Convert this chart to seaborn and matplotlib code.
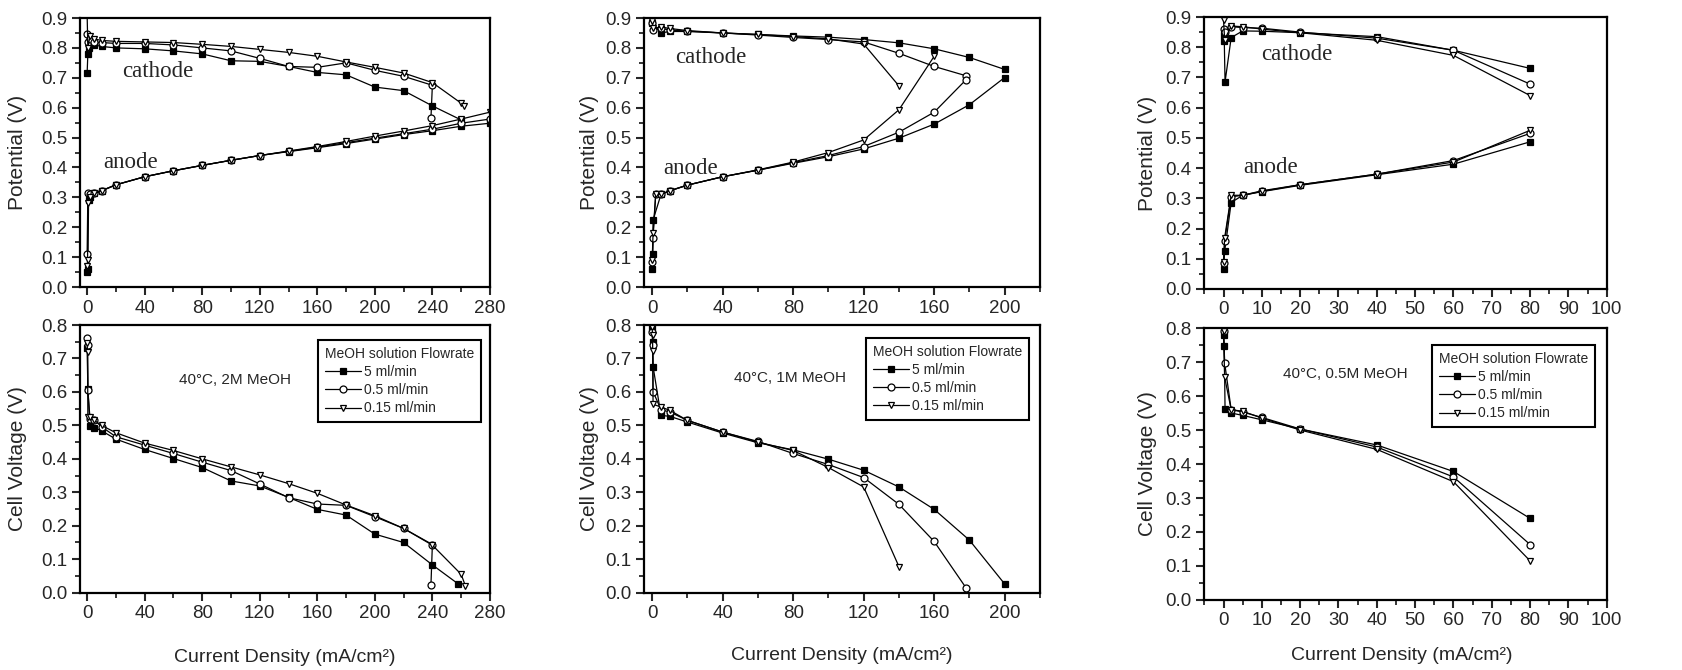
import matplotlib
matplotlib.use("Agg")
import matplotlib.pyplot as plt
from matplotlib.ticker import MultipleLocator, FormatStrFormatter
from matplotlib.lines import Line2D
import seaborn as sns

# ---------------- DATA ----------------
series_labels = ["5 ml/min", "0.5 ml/min", "0.15 ml/min"]

# 2M MeOH
m2_cat_sq_x = [0, 0.5, 1, 2, 5, 10, 20, 40, 60, 80, 100, 120, 140, 160, 180, 200, 220, 240, 260]
m2_cat_sq_y = [0.716, 0.78, 0.80, 0.82, 0.81, 0.805, 0.80, 0.797, 0.79, 0.78, 0.757, 0.755, 0.738, 0.718, 0.71, 0.669, 0.657, 0.606, 0.559]
m2_cat_ci_x = [0, 0.5, 2, 5, 10, 20, 40, 60, 80, 100, 120, 140, 160, 180, 200, 220, 240, 239]
m2_cat_ci_y = [0.845, 0.82, 0.83, 0.82, 0.818, 0.815, 0.815, 0.81, 0.80, 0.79, 0.765, 0.738, 0.735, 0.75, 0.725, 0.705, 0.675, 0.565]
m2_cat_tr_x = [0, 0.5, 2, 5, 10, 20, 40, 60, 80, 100, 120, 140, 160, 180, 200, 220, 240, 260, 262]
m2_cat_tr_y = [0.91, 0.80, 0.84, 0.83, 0.825, 0.822, 0.82, 0.818, 0.812, 0.805, 0.795, 0.785, 0.772, 0.753, 0.735, 0.716, 0.684, 0.615, 0.607]
m2_an_sq_x = [0, 0.5, 1, 2, 5, 10, 20, 40, 60, 80, 100, 120, 140, 160, 180, 200, 220, 240, 260, 280]
m2_an_sq_y = [0.05, 0.06, 0.29, 0.30, 0.313, 0.322, 0.342, 0.369, 0.389, 0.407, 0.424, 0.44, 0.453, 0.466, 0.48, 0.495, 0.51, 0.523, 0.538, 0.548]
m2_an_ci_x = [0, 0.5, 2, 5, 10, 20, 40, 60, 80, 100, 120, 140, 160, 180, 200, 220, 240, 260, 280]
m2_an_ci_y = [0.11, 0.315, 0.31, 0.313, 0.322, 0.342, 0.369, 0.389, 0.407, 0.424, 0.44, 0.454, 0.468, 0.483, 0.498, 0.513, 0.528, 0.548, 0.562]
m2_an_tr_x = [0, 0.3, 0.5, 2, 5, 10, 20, 40, 60, 80, 100, 120, 140, 160, 180, 200, 220, 240, 260, 280]
m2_an_tr_y = [0.07, 0.09, 0.28, 0.30, 0.313, 0.322, 0.342, 0.369, 0.389, 0.407, 0.424, 0.44, 0.455, 0.47, 0.487, 0.505, 0.522, 0.54, 0.562, 0.585]
m2_cell_sq_x = [0, 0.5, 2, 5, 10, 20, 40, 60, 80, 100, 120, 140, 160, 180, 200, 220, 240, 258]
m2_cell_sq_y = [0.73, 0.61, 0.497, 0.493, 0.484, 0.459, 0.428, 0.401, 0.374, 0.334, 0.319, 0.285, 0.249, 0.232, 0.175, 0.150, 0.083, 0.026]
m2_cell_ci_x = [0, 0.3, 0.5, 2, 5, 10, 20, 40, 60, 80, 100, 120, 140, 160, 180, 200, 220, 240, 239]
m2_cell_ci_y = [0.76, 0.74, 0.605, 0.52, 0.516, 0.496, 0.466, 0.441, 0.416, 0.39, 0.365, 0.325, 0.284, 0.265, 0.261, 0.227, 0.192, 0.144, 0.023]
m2_cell_tr_x = [0, 0.3, 0.5, 2, 5, 10, 20, 40, 60, 80, 100, 120, 140, 160, 180, 200, 220, 240, 260, 263]
m2_cell_tr_y = [0.745, 0.72, 0.525, 0.525, 0.515, 0.50, 0.478, 0.447, 0.425, 0.40, 0.376, 0.352, 0.326, 0.297, 0.262, 0.23, 0.192, 0.142, 0.055, 0.02]

# 1M MeOH
m1_cat_sq_x = [0, 5, 10, 20, 40, 60, 80, 100, 120, 140, 160, 180, 200]
m1_cat_sq_y = [0.885, 0.85, 0.855, 0.855, 0.85, 0.845, 0.84, 0.836, 0.828, 0.817, 0.797, 0.768, 0.728]
m1_cat_ci_x = [0, 0.5, 5, 10, 20, 40, 60, 80, 100, 120, 140, 160, 178]
m1_cat_ci_y = [0.885, 0.86, 0.865, 0.86, 0.856, 0.85, 0.843, 0.835, 0.828, 0.82, 0.782, 0.738, 0.707]
m1_cat_tr_x = [0, 0.5, 5, 10, 20, 40, 60, 80, 100, 120, 140]
m1_cat_tr_y = [0.89, 0.865, 0.87, 0.865, 0.858, 0.85, 0.845, 0.838, 0.83, 0.813, 0.673]
m1_an_sq_x = [0, 0.3, 0.5, 5, 10, 20, 40, 60, 80, 100, 120, 140, 160, 180, 200]
m1_an_sq_y = [0.06, 0.11, 0.224, 0.31, 0.322, 0.341, 0.369, 0.391, 0.414, 0.436, 0.462, 0.498, 0.545, 0.61, 0.701]
m1_an_ci_x = [0, 0.5, 2, 5, 10, 20, 40, 60, 80, 100, 120, 140, 160, 178]
m1_an_ci_y = [0.085, 0.165, 0.31, 0.31, 0.322, 0.341, 0.369, 0.391, 0.416, 0.44, 0.47, 0.518, 0.585, 0.693]
m1_an_tr_x = [0, 0.5, 2, 5, 10, 20, 40, 60, 80, 100, 120, 140, 160]
m1_an_tr_y = [0.09, 0.18, 0.31, 0.31, 0.322, 0.341, 0.369, 0.392, 0.418, 0.45, 0.492, 0.593, 0.772]
m1_cell_sq_x = [0, 0.3, 0.5, 5, 10, 20, 40, 60, 80, 100, 120, 140, 160, 180, 200]
m1_cell_sq_y = [0.79, 0.749, 0.676, 0.53, 0.527, 0.51, 0.477, 0.448, 0.427, 0.399, 0.366, 0.316, 0.249, 0.157, 0.026]
m1_cell_ci_x = [0, 0.3, 0.5, 5, 10, 20, 40, 60, 80, 100, 120, 140, 160, 178]
m1_cell_ci_y = [0.78, 0.739, 0.601, 0.547, 0.54, 0.515, 0.48, 0.452, 0.416, 0.383, 0.344, 0.264, 0.153, 0.015]
m1_cell_tr_x = [0, 0.2, 0.3, 0.5, 5, 10, 20, 40, 60, 80, 100, 120, 140]
m1_cell_tr_y = [0.795, 0.77, 0.721, 0.563, 0.555, 0.545, 0.515, 0.48, 0.45, 0.425, 0.374, 0.316, 0.078]

# 0.5M MeOH
h_cat_sq_x = [0, 0.2, 0.4, 2, 5, 10, 20, 40, 60, 80]
h_cat_sq_y = [0.84, 0.82, 0.685, 0.832, 0.854, 0.853, 0.848, 0.835, 0.79, 0.73]
h_cat_ci_x = [0, 0.3, 2, 5, 10, 20, 40, 60, 80]
h_cat_ci_y = [0.861, 0.85, 0.868, 0.865, 0.863, 0.85, 0.83, 0.79, 0.678]
h_cat_tr_x = [0, 0.3, 2, 5, 10, 20, 40, 60, 80]
h_cat_tr_y = [0.889, 0.825, 0.87, 0.868, 0.86, 0.848, 0.823, 0.773, 0.64]
h_an_sq_x = [0, 0.3, 2, 5, 10, 20, 40, 60, 80]
h_an_sq_y = [0.065, 0.125, 0.286, 0.31, 0.322, 0.343, 0.378, 0.413, 0.487]
h_an_ci_x = [0, 0.3, 2, 5, 10, 20, 40, 60, 80]
h_an_ci_y = [0.085, 0.16, 0.305, 0.31, 0.323, 0.345, 0.38, 0.425, 0.515]
h_an_tr_x = [0, 0.3, 2, 5, 10, 20, 40, 60, 80]
h_an_tr_y = [0.09, 0.17, 0.31, 0.31, 0.325, 0.345, 0.38, 0.42, 0.525]
h_cell_sq_x = [0, 0.2, 0.4, 2, 5, 10, 20, 40, 60, 80]
h_cell_sq_y = [0.78, 0.748, 0.561, 0.55, 0.543, 0.53, 0.503, 0.456, 0.378, 0.24]
h_cell_ci_x = [0, 0.3, 2, 5, 10, 20, 40, 60, 80]
h_cell_ci_y = [0.79, 0.697, 0.56, 0.553, 0.537, 0.503, 0.45, 0.362, 0.163]
h_cell_tr_x = [0, 0.3, 2, 5, 10, 20, 40, 60, 80]
h_cell_tr_y = [0.79, 0.655, 0.56, 0.555, 0.535, 0.50, 0.443, 0.348, 0.115]

conditions = ["40°C, 2M MeOH", "40°C, 1M MeOH", "40°C, 0.5M MeOH"]

# ---------------- STYLE ----------------
sns.set_style("ticks")
plt.rcParams["font.family"] = ["Liberation Sans", "DejaVu Sans"]
plt.rcParams["axes.linewidth"] = 1.6

fig = plt.figure(figsize=(16.83, 6.70), dpi=100)

rects_top = [[0.0475, 0.5716, 0.2436, 0.4015],
             [0.3828, 0.5716, 0.2351, 0.4015],
             [0.7156, 0.5687, 0.2391, 0.4059]]
rects_bot = [[0.0475, 0.1154, 0.2436, 0.3995],
             [0.3828, 0.1154, 0.2351, 0.3995],
             [0.7156, 0.1045, 0.2391, 0.4059]]
xlims = [(-5, 280), (-4.5, 220), (-5, 100)]
xmaj = [40, 40, 10]
xmin = [20, 20, 5]
ylabel_x = [-0.129, -0.115, -0.118]
xlabel_pos = [(285 / 1683, 1 - 657 / 670), (842 / 1683, 1 - 656 / 670), (1402 / 1683, 1 - 655 / 670)]

marker_styles = [dict(marker="s", markerfacecolor="black"),
                 dict(marker="o", markerfacecolor="white"),
                 dict(marker="v", markerfacecolor="white")]

top_data = [
    [(m2_cat_sq_x, m2_cat_sq_y), (m2_cat_ci_x, m2_cat_ci_y), (m2_cat_tr_x, m2_cat_tr_y),
     (m2_an_sq_x, m2_an_sq_y), (m2_an_ci_x, m2_an_ci_y), (m2_an_tr_x, m2_an_tr_y)],
    [(m1_cat_sq_x, m1_cat_sq_y), (m1_cat_ci_x, m1_cat_ci_y), (m1_cat_tr_x, m1_cat_tr_y),
     (m1_an_sq_x, m1_an_sq_y), (m1_an_ci_x, m1_an_ci_y), (m1_an_tr_x, m1_an_tr_y)],
    [(h_cat_sq_x, h_cat_sq_y), (h_cat_ci_x, h_cat_ci_y), (h_cat_tr_x, h_cat_tr_y),
     (h_an_sq_x, h_an_sq_y), (h_an_ci_x, h_an_ci_y), (h_an_tr_x, h_an_tr_y)],
]
bot_data = [
    [(m2_cell_sq_x, m2_cell_sq_y), (m2_cell_ci_x, m2_cell_ci_y), (m2_cell_tr_x, m2_cell_tr_y)],
    [(m1_cell_sq_x, m1_cell_sq_y), (m1_cell_ci_x, m1_cell_ci_y), (m1_cell_tr_x, m1_cell_tr_y)],
    [(h_cell_sq_x, h_cell_sq_y), (h_cell_ci_x, h_cell_ci_y), (h_cell_tr_x, h_cell_tr_y)],
]

cathode_pos = [(49, 0.722), (33, 0.769), (19, 0.775)]
anode_pos = [(30, 0.418), (21.7, 0.395), (12.4, 0.402)]
cond_pos = [(103, 0.636), (78, 0.641), (31.7, 0.665)]
legend_anchor = [(0.978, 0.944), (0.972, 0.953), (0.972, 0.9375)]


def style_axis(ax, i, ymax):
    ax.set_xlim(*xlims[i])
    ax.set_ylim(0, ymax)
    ax.xaxis.set_major_locator(MultipleLocator(xmaj[i]))
    ax.xaxis.set_minor_locator(MultipleLocator(xmin[i]))
    ax.yaxis.set_major_locator(MultipleLocator(0.1))
    ax.yaxis.set_minor_locator(MultipleLocator(0.05))
    ax.yaxis.set_major_formatter(FormatStrFormatter("%.1f"))
    ax.tick_params(axis="both", which="major", direction="out", length=6, width=1.5,
                   labelsize=13.5, top=False, right=False, pad=3)
    ax.tick_params(axis="both", which="minor", direction="out", length=3.5, width=1.3,
                   top=False, right=False)
    for s in ax.spines.values():
        s.set_visible(True)
        s.set_linewidth(1.6)
        s.set_color("black")


def draw(ax, x, y, k, label=None):
    sns.lineplot(x=x, y=y, ax=ax, sort=False, estimator=None, color="black",
                 linewidth=0.9, markersize=5, markeredgecolor="black",
                 markeredgewidth=0.9, label=label, legend=False, **marker_styles[k])


for i in range(3):
    ax = fig.add_axes(rects_top[i])
    for j, (x, y) in enumerate(top_data[i]):
        draw(ax, x, y, j % 3)
    style_axis(ax, i, 0.9)
    ax.set_ylabel("Potential (V)", fontsize=15)
    ax.yaxis.set_label_coords(ylabel_x[i], 0.5)
    ax.text(*cathode_pos[i], "cathode", family=["Liberation Serif", "DejaVu Serif"],
            fontsize=16.5, ha="center", va="center")
    ax.text(*anode_pos[i], "anode", family=["Liberation Serif", "DejaVu Serif"],
            fontsize=16.5, ha="center", va="center")

    axb = fig.add_axes(rects_bot[i])
    for j, (x, y) in enumerate(bot_data[i]):
        draw(axb, x, y, j, label=series_labels[j])
    style_axis(axb, i, 0.8)
    axb.set_ylabel("Cell Voltage (V)", fontsize=15)
    axb.yaxis.set_label_coords(ylabel_x[i], 0.5)
    fig.text(*xlabel_pos[i], "Current Density (mA/cm²)", fontsize=14,
             ha="center", va="center")
    axb.text(*cond_pos[i], conditions[i], fontsize=11, ha="center", va="center")
    handles = [Line2D([], [], color="black", linewidth=0.9, markersize=5,
                      markeredgecolor="black", markeredgewidth=0.9, **marker_styles[k])
               for k in range(3)]
    leg = axb.legend(handles, series_labels, title="MeOH solution Flowrate",
                     loc="upper right", bbox_to_anchor=legend_anchor[i],
                     fontsize=10, title_fontsize=10, frameon=True, fancybox=False,
                     edgecolor="black", framealpha=1, handlelength=2.6,
                     handletextpad=0.2, labelspacing=0.3, borderpad=0.5,
                     alignment="left", borderaxespad=0)
    leg.get_frame().set_linewidth(1.5)

fig.savefig("out.png", dpi=100)
